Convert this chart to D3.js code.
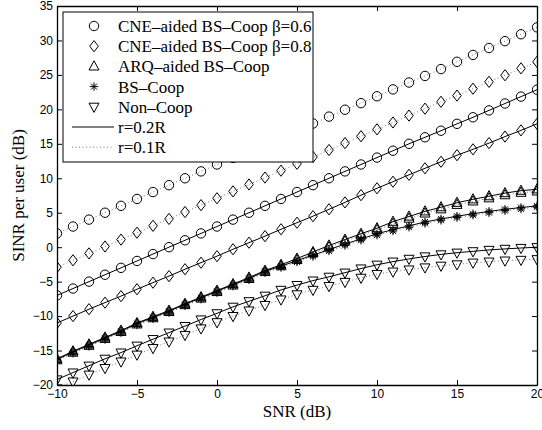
<!DOCTYPE html>
<html>
<head>
<meta charset="utf-8">
<script src="https://cdn.jsdelivr.net/npm/d3@7"></script>
<style>
  body { margin: 0; background: #fff; }
  svg { display: block; }
</style>
</head>
<body>
<svg id="chart" width="542" height="430"></svg>
<script>
const W = 542, H = 430;
const m = { l: 57, t: 6, r: 5, b: 45 };
const pw = W - m.l - m.r, ph = H - m.t - m.b;

// SNR grid (dB)
const snr = [-10, -9, -8, -7, -6, -5, -4, -3, -2, -1, 0, 1, 2, 3, 4, 5, 6, 7, 8, 9, 10, 11, 12, 13, 14, 15, 16, 17, 18, 19, 20];

// r = 0.1R (dotted)
const cne06_r01 = [2.0, 3.0, 4.0, 5.0, 6.0, 7.0, 8.0, 9.0, 10.0, 11.0, 12.0, 12.95, 13.95, 14.95, 15.95, 16.95, 17.95, 18.95, 19.95, 20.9, 21.9, 22.9, 23.9, 24.85, 25.85, 26.9, 27.9, 28.9, 29.9, 30.9, 31.9];
const cne08_r01 = [-2.9, -1.9, -0.9, 0.1, 1.1, 2.1, 3.1, 4.1, 5.1, 6.1, 7.1, 8.1, 9.1, 10.1, 11.1, 12.1, 13.1, 14.1, 15.1, 16.1, 17.1, 18.1, 19.1, 20.1, 21.1, 22.0, 23.0, 24.0, 24.95, 25.95, 26.9];
const arq_r01 = [-16.4, -15.3, -14.3, -13.3, -12.3, -11.2, -10.3, -9.4, -8.4, -7.45, -6.5, -5.55, -4.6, -3.6, -2.75, -1.85, -0.9, 0.0, 0.85, 1.7, 2.5, 3.4, 4.15, 4.9, 5.5, 6.15, 6.65, 7.1, 7.55, 7.9, 8.1];
const bs_r01 = [-16.5, -15.4, -14.4, -13.4, -12.4, -11.3, -10.4, -9.5, -8.5, -7.55, -6.6, -5.65, -4.75, -3.7, -2.95, -2.15, -1.35, -0.55, 0.25, 1.0, 1.75, 2.35, 2.9, 3.45, 3.9, 4.3, 4.65, 5.0, 5.3, 5.55, 5.8];
const noncoop_r01 = [-20.5, -19.5, -18.5, -17.55, -16.6, -15.6, -14.65, -13.7, -12.75, -11.8, -10.9, -10.0, -9.2, -8.4, -7.6, -6.85, -6.2, -5.65, -5.05, -4.45, -3.9, -3.55, -3.25, -2.95, -2.7, -2.5, -2.25, -2.1, -1.95, -1.85, -1.75];

// r = 0.2R (solid)
const cne06_r02 = [-7.0, -6.0, -5.0, -4.0, -3.0, -2.0, -1.0, 0.0, 1.0, 2.0, 3.0, 4.0, 5.0, 6.0, 7.0, 8.0, 9.0, 10.0, 11.0, 12.0, 13.0, 14.0, 15.0, 15.95, 16.9, 17.9, 18.85, 19.85, 20.85, 21.85, 22.85];
const cne08_r02 = [-11.0, -10.0, -9.0, -8.05, -7.1, -6.1, -5.15, -4.2, -3.2, -2.25, -1.3, -0.3, 0.65, 1.6, 2.6, 3.55, 4.5, 5.5, 6.5, 7.55, 8.55, 9.5, 10.5, 11.45, 12.4, 13.35, 14.2, 15.1, 16.05, 16.95, 17.9];
const arq_r02 = [-16.2, -15.1, -14.1, -13.1, -12.1, -11.0, -10.1, -9.2, -8.2, -7.25, -6.3, -5.35, -4.4, -3.4, -2.55, -1.65, -0.7, 0.25, 1.1, 1.95, 2.75, 3.7, 4.45, 5.2, 5.8, 6.45, 6.95, 7.4, 7.85, 8.2, 8.4];
const bs_r02 = [-16.3, -15.2, -14.2, -13.2, -12.2, -11.1, -10.2, -9.3, -8.3, -7.35, -6.4, -5.45, -4.55, -3.5, -2.75, -1.95, -1.15, -0.35, 0.45, 1.2, 1.95, 2.55, 3.1, 3.65, 4.1, 4.5, 4.85, 5.2, 5.5, 5.75, 6.0];
const noncoop_r02 = [-19.2, -18.2, -17.2, -16.2, -15.3, -14.3, -13.35, -12.4, -11.45, -10.5, -9.6, -8.65, -7.85, -7.05, -6.2, -5.5, -4.85, -4.3, -3.7, -3.1, -2.55, -2.1, -1.7, -1.35, -1.05, -0.8, -0.6, -0.4, -0.25, -0.12, 0.0];

const xTicks = [-10, -5, 0, 5, 10, 15, 20];
const yTicks = [-20, -15, -10, -5, 0, 5, 10, 15, 20, 25, 30, 35];

const legendNames = ["CNE\u2013aided BS\u2013Coop \u03b2=0.6", "CNE\u2013aided BS\u2013Coop \u03b2=0.8", "ARQ\u2013aided BS\u2013Coop", "BS\u2013Coop", "Non\u2013Coop"];
const legendLines = ["r=0.2R", "r=0.1R"];
const markerTypes = ["circle", "diamond", "up", "star", "down"];

const series = [
  { vals: cne06_r01, mk: "circle", dotted: true },
  { vals: cne08_r01, mk: "diamond", dotted: true },
  { vals: noncoop_r01, mk: "down", dotted: true },
  { vals: arq_r01, mk: "up", dotted: true },
  { vals: bs_r01, mk: "star", dotted: true },
  { vals: cne06_r02, mk: "circle", dotted: false },
  { vals: cne08_r02, mk: "diamond", dotted: false },
  { vals: noncoop_r02, mk: "down", dotted: false },
  { vals: arq_r02, mk: "up", dotted: false },
  { vals: bs_r02, mk: "star", dotted: false }
];

const x = d3.scaleLinear().domain([-10, 20]).range([0, pw]);
const y = d3.scaleLinear().domain([-20, 35]).range([ph, 0]);

const svg = d3.select("#chart");
svg.append("rect").attr("width", W).attr("height", H).attr("fill", "#fff");
svg.append("defs").append("clipPath").attr("id", "clip")
  .append("rect").attr("width", pw).attr("height", ph);

const g = svg.append("g").attr("transform", `translate(${m.l},${m.t})`);

function marker(sel, type) {
  if (type === "circle") {
    sel.append("circle").attr("r", 4.7);
  } else if (type === "diamond") {
    sel.append("path").attr("d", "M0,-5.6L4.3,0L0,5.6L-4.3,0Z");
  } else if (type === "up") {
    sel.append("path").attr("d", "M0,-5.6L5,3.6L-5,3.6Z");
  } else if (type === "down") {
    sel.append("path").attr("d", "M0,5.6L5,-3.6L-5,-3.6Z");
  } else if (type === "star") {
    sel.append("path").attr("d", "M-4.2,0H4.2M0,-4.2V4.2M-3,-3L3,3M-3,3L3,-3");
  }
}

const plot = g.append("g").attr("clip-path", "url(#clip)");
const line = d3.line().x((d, i) => x(snr[i])).y(d => y(d));

series.forEach(s => {
  plot.append("path")
    .attr("d", line(s.vals))
    .attr("fill", "none")
    .attr("stroke", s.dotted ? "#777" : "#000")
    .attr("stroke-width", 1)
    .attr("stroke-dasharray", s.dotted ? "1,2.5" : null);
  const mg = plot.append("g")
    .attr("fill", "none")
    .attr("stroke", "#000")
    .attr("stroke-width", 1);
  s.vals.forEach((v, i) => {
    const pt = mg.append("g").attr("transform", `translate(${x(snr[i])},${y(v)})`);
    marker(pt, s.mk);
  });
});

// axes box with inward ticks
const tl = 5;
const fmt = d => d < 0 ? "\u2212" + Math.abs(d) : String(d);
const axB = g.append("g").attr("transform", `translate(0,${ph})`)
  .call(d3.axisBottom(x).tickValues(xTicks).tickSizeInner(-tl).tickSizeOuter(0).tickPadding(4).tickFormat(fmt));
const axT = g.append("g")
  .call(d3.axisTop(x).tickValues(xTicks).tickSizeInner(-tl).tickSizeOuter(0).tickFormat(""));
const axL = g.append("g")
  .call(d3.axisLeft(y).tickValues(yTicks).tickSizeInner(-tl).tickSizeOuter(0).tickPadding(4).tickFormat(fmt));
const axR = g.append("g").attr("transform", `translate(${pw},0)`)
  .call(d3.axisRight(y).tickValues(yTicks).tickSizeInner(-tl).tickSizeOuter(0).tickFormat(""));
[axB, axT, axL, axR].forEach(a => {
  a.select(".domain").attr("stroke", "#000").attr("stroke-width", 1.3);
  a.selectAll(".tick line").attr("stroke", "#000");
  a.selectAll("text").attr("font-family", "Liberation Sans, Arial, sans-serif")
    .attr("font-size", 12).attr("fill", "#000");
});

// axis titles
svg.append("text")
  .attr("x", m.l + pw / 2).attr("y", 417)
  .attr("text-anchor", "middle")
  .attr("font-family", "Liberation Serif, Times New Roman, serif")
  .attr("font-size", 17)
  .text("SNR (dB)");
svg.append("text")
  .attr("transform", `translate(24,${m.t + ph / 2}) rotate(-90)`)
  .attr("text-anchor", "middle")
  .attr("font-family", "Liberation Serif, Times New Roman, serif")
  .attr("font-size", 17)
  .text("SINR per user (dB)");

// legend
const lg = svg.append("g");
lg.append("rect")
  .attr("x", 63).attr("y", 12).attr("width", 250).attr("height", 150)
  .attr("fill", "#fff").attr("stroke", "#000").attr("stroke-width", 1);
const rowY = i => 26 + i * 20.2;
legendNames.forEach((name, i) => {
  const mg = lg.append("g").attr("transform", `translate(94,${rowY(i)})`)
    .attr("fill", "none").attr("stroke", "#000").attr("stroke-width", 1);
  marker(mg, markerTypes[i]);
  lg.append("text").attr("x", 118).attr("y", rowY(i) + 6)
    .attr("font-family", "Liberation Serif, Times New Roman, serif")
    .attr("font-size", 17).text(name);
});
legendLines.forEach((name, j) => {
  const yy = rowY(5 + j);
  lg.append("line").attr("x1", 72).attr("x2", 114).attr("y1", yy).attr("y2", yy)
    .attr("stroke", j === 0 ? "#000" : "#777").attr("stroke-width", 1)
    .attr("stroke-dasharray", j === 0 ? null : "1,2.5");
  lg.append("text").attr("x", 118).attr("y", yy + 6)
    .attr("font-family", "Liberation Serif, Times New Roman, serif")
    .attr("font-size", 17).text(name);
});
</script>
</body>
</html>
